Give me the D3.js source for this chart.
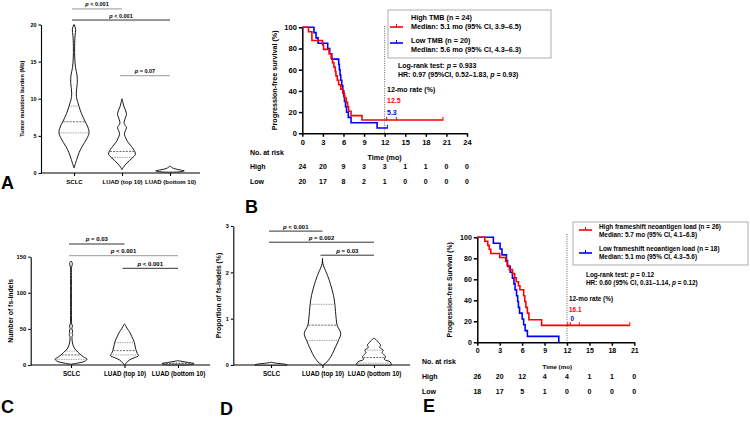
<!DOCTYPE html>
<html>
<head>
<meta charset="utf-8">
<script src="https://cdn.jsdelivr.net/npm/d3@7"></script>
<style>
	body { margin: 0; background: #fff; }
	svg { display: block; font-family: "Liberation Sans", Arial, sans-serif; }
	text { font-weight: bold; white-space: pre; }
</style>
</head>
<body>
<script>
"use strict";

// ---------- data ----------
const categories = ["SCLC", "LUAD (top 10)", "LUAD (bottom 10)"];

// violin outlines: [value, relative width]
const tmbSclc = [[0.7, 0], [1.8, 0.18], [2.8, 0.35], [3.6, 0.55], [4.6, 0.85], [5.4, 1.0], [6.2, 0.92], [6.9, 0.75], [8.0, 0.5], [9.0, 0.33], [10.3, 0.16], [11.2, 0.17], [12.2, 0.22], [13.2, 0.2], [14.2, 0.1], [15.5, 0.05], [17, 0.04], [18.5, 0.07], [19.3, 0.11], [19.8, 0.05], [20, 0]];
const tmbLuadTop = [[0.45, 0], [0.8, 0.1], [1.35, 0.33], [2.0, 0.67], [2.5, 0.89], [2.9, 0.85], [3.6, 0.62], [4.2, 0.38], [4.6, 0.28], [5.2, 0.16], [5.7, 0.22], [6.1, 0.3], [6.7, 0.14], [7.3, 0.2], [7.9, 0.3], [8.5, 0.22], [9.0, 0.12], [9.6, 0.05], [10.0, 0]];
const tmbLuadBottom = [[0.1, 0], [0.15, 0.6], [0.28, 0.95], [0.4, 0.7], [0.55, 0.35], [0.7, 0.15], [0.85, 0.06], [0.95, 0]];
const tmbQuartiles = [[5.4, 6.9, 9.0], [2.1, 2.9, null], [null, null, null]];
const tmbTicks = [0, 5, 10, 15, 20];
const tmbComparisons = [[0, 1, " < 0.001"], [0, 2, " < 0.001"], [1, 2, " = 0.07"]];

const fsSclc = [[1, 0], [3, 0.5], [5, 0.85], [8, 1.0], [11, 0.8], [14, 0.62], [17, 0.47], [19.4, 0.37], [22, 0.25], [25, 0.17], [28, 0.12], [32, 0.08], [36, 0.06], [40, 0.07], [42, 0.11], [44, 0.07], [47, 0.1], [50, 0.05], [54, 0.09], [57, 0.04], [65, 0.03], [80, 0.025], [100, 0.025], [120, 0.025], [135, 0.03], [139, 0.08], [142, 0.07], [144, 0]];
const fsLuadTop = [[0, 0], [3, 0.12], [7, 0.31], [10, 0.6], [13, 0.88], [16, 0.8], [20, 0.73], [25, 0.67], [31, 0.62], [35, 0.55], [39, 0.46], [43, 0.38], [46, 0.31], [50, 0.18], [54, 0.08], [57, 0]];
const fsLuadBottom = [[0.3, 0], [0.8, 0.9], [2, 1.0], [3, 0.8], [4, 0.5], [5, 0.25], [6, 0]];
const fsQuartiles = [[7.8, 13.9, 19.4], [13.9, 19.9, 30.9], [1, 2, 3]];
const fsTicks = [0, 50, 100, 150];
const fsComparisons = [[0, 1, " = 0.03"], [0, 2, " < 0.001"], [1, 2, " < 0.001"]];

const propSclc = [[0, 0.85], [0.02, 0.7], [0.04, 0.25], [0.06, 0]];
const propLuadTop = [[0, 0], [0.04, 0.17], [0.18, 0.44], [0.32, 0.61], [0.53, 0.84], [0.68, 0.96], [0.86, 0.77], [1.0, 0.72], [1.31, 0.65], [1.5, 0.58], [1.76, 0.41], [1.98, 0.22], [2.09, 0.1], [2.19, 0.02], [2.3, 0]];
const propLuadBottom = [[0, 0.9], [0.02, 0.91], [0.07, 0.84], [0.12, 0.55], [0.18, 0.61], [0.23, 0.5], [0.27, 0.42], [0.32, 0.49], [0.38, 0.3], [0.43, 0.35], [0.5, 0.21], [0.55, 0.1], [0.58, 0]];
const propQuartiles = [[null, null, null], [0.53, 0.86, 1.31], [0.04, 0.16, 0.32]];
const propTicks = [0, 1, 2, 3];
const propComparisons = [[0, 1, " < 0.001"], [0, 2, " = 0.002"], [1, 2, " = 0.03"]];

// Kaplan-Meier steps: [month, survival %]
const tmbHighSteps = [[0, 100], [0.9, 95.8], [1.4, 87.5], [2.95, 83.3], [3.1, 79.2], [3.9, 75], [4.2, 70.8], [4.4, 66.7], [4.6, 62.5], [4.8, 58.3], [4.9, 54.2], [5.1, 50], [5.3, 45.8], [5.6, 41.7], [5.9, 37.5], [6.15, 33.3], [6.4, 29.2], [6.6, 25], [6.75, 20.8], [7.1, 16.7], [8.7, 12.5], [20.5, 12.5]];
const tmbHighCensor = [12.3, 13.7, 20.5];
const tmbLowSteps = [[0, 100], [1.7, 95], [2.0, 90], [2.3, 85], [3.7, 80], [4.0, 75], [4.3, 70], [5.3, 65], [5.4, 60], [5.5, 55], [5.6, 50], [5.75, 45], [5.9, 40], [6.05, 35], [6.15, 30], [6.3, 25], [6.45, 20], [6.7, 15], [7.1, 10], [10.9, 5], [12.4, 5]];
const tmbLowCensor = [12.4];
const monthTicksB = [0, 3, 6, 9, 12, 15, 18, 21, 24];
const riskHighB = [24, 20, 9, 3, 3, 1, 1, 0, 0];
const riskLowB = [20, 17, 8, 2, 1, 0, 0, 0, 0];
const legendB = ["High TMB (n = 24)", "Median: 5.1 mo (95% CI, 3.9\u20136.5)", "Low TMB (n = 20)", "Median: 5.6 mo (95% CI, 4.3\u20136.3)"];

const fnlHighSteps = [[0, 100], [1.0, 96.2], [1.4, 92.3], [1.6, 88.5], [1.8, 84.6], [3.0, 80.8], [3.8, 76.9], [4.0, 73.1], [4.3, 69.2], [4.7, 65.4], [5.0, 61.5], [5.2, 57.7], [5.5, 53.8], [5.7, 50], [6.2, 44.4], [6.35, 38.9], [6.5, 33.3], [6.7, 27.8], [6.9, 21.5], [8.6, 16.1], [20.4, 16.1]];
const fnlHighCensor = [12.1, 12.45, 13.65, 20.4];
const fnlLowSteps = [[0, 100], [2.15, 94.4], [3.05, 88.9], [3.3, 83.3], [3.9, 77.8], [4.05, 72.2], [4.4, 66.7], [4.7, 61.1], [4.9, 55.6], [5.05, 50], [5.25, 44.4], [5.4, 38.9], [5.5, 33.3], [5.65, 27.8], [6.0, 22.2], [6.2, 16.7], [6.4, 11.1], [6.7, 5.6], [10.9, 0]];
const fnlLowCensor = [];
const monthTicksE = [0, 3, 6, 9, 12, 15, 18, 21];
const riskHighE = [26, 20, 12, 4, 4, 1, 1, 0];
const riskLowE = [18, 17, 5, 1, 0, 0, 0, 0];
const legendE = ["High frameshift neoantigen load (n = 26)", "Median: 5.7 mo (95% CI, 4.1\u20136.8)", "Low frameshift neoantigen load (n = 18)", "Median: 5.1 mo (95% CI, 4.3\u20135.6)"];

const RED = "#ff0000";
const BLUE = "#0000ff";

const svg = d3.select("body")
	.append("svg")
	.attr("width", 750)
	.attr("height", 424);

// text with italic parts: strings are upright, {i: "p"} italic
function rich(sel, x, y, parts, size, anchor = "start", color = "#000") {
	const t = sel.append("text")
		.attr("x", x)
		.attr("y", y)
		.attr("font-size", size)
		.attr("text-anchor", anchor)
		.attr("fill", color);
	parts.forEach(p => {
		if (typeof p === "string") t.append("tspan").text(p);
		else t.append("tspan").attr("font-style", "italic").text(p.i);
	});
	return t;
}

function densityAt(profile, v) {
	for (let i = 1; i < profile.length; i++) {
		const [a, da] = profile[i - 1];
		const [b, db] = profile[i];
		if (v >= a && v <= b) return da + (db - da) * (v - a) / (b - a);
	}
	return 0;
}

function styleAxis(a, size, width) {
	a.attr("font-family", null).attr("font-size", size).attr("font-weight", "bold");
	a.selectAll("line, path").attr("stroke", "#000").attr("stroke-width", width);
	a.selectAll("text").attr("fill", "#000");
}

function drawViolins(cfg) {
	const g = svg.append("g");
	const y = d3.scaleLinear().domain([0, cfg.yMax]).range([cfg.y0, cfg.yTop]);
	const x = d3.scalePoint().domain(categories).range(cfg.catRange);
	const w = d3.scaleLinear().domain([0, 1]).range([0, cfg.halfWidth]);

	// axes
	g.append("g")
		.attr("transform", `translate(${cfg.x0},0)`)
		.call(d3.axisLeft(y).tickValues(cfg.ticks).tickFormat(d3.format("d")).tickSize(2.5).tickSizeOuter(0).tickPadding(2))
		.call(a => styleAxis(a, cfg.tickFont, 1.1));
	g.append("g")
		.attr("transform", `translate(0,${cfg.y0})`)
		.call(d3.axisBottom(x).tickSize(3).tickSizeOuter(0).tickPadding(3.5))
		.call(a => styleAxis(a, cfg.catFont, 1.1))
		.call(a => a.select(".domain").remove());
	g.append("line")
		.attr("x1", cfg.x0).attr("x2", cfg.x1)
		.attr("y1", cfg.y0).attr("y2", cfg.y0)
		.attr("stroke", "#000").attr("stroke-width", 1.1);
	g.append("text")
		.attr("transform", `translate(${cfg.titleX},${(cfg.y0 + cfg.yTop) / 2}) rotate(-90)`)
		.attr("text-anchor", "middle")
		.attr("font-size", cfg.titleFont)
		.text(cfg.title);

	// violins
	cfg.violins.forEach((profile, i) => {
		const cx = x(categories[i]);
		const area = d3.area()
			.curve(d3.curveCatmullRom.alpha(0.5))
			.y(d => y(d[0]))
			.x0(d => cx - w(d[1]))
			.x1(d => cx + w(d[1]));
		g.append("path")
			.datum(profile)
			.attr("d", area)
			.attr("fill", "#fff")
			.attr("stroke", "#000")
			.attr("stroke-width", 0.9);
		cfg.quartiles[i].forEach((q, k) => {
			if (q == null) return;
			const hw = Math.max(0, w(densityAt(profile, q)) - 0.6);
			g.append("line")
				.attr("x1", cx - hw).attr("x2", cx + hw)
				.attr("y1", y(q)).attr("y2", y(q))
				.attr("stroke", k === 1 ? "#222" : "#555")
				.attr("stroke-width", 0.7)
				.attr("stroke-dasharray", k === 1 ? "2,1.2" : "0.8,0.9");
		});
	});

	// significance bars
	cfg.comparisons.forEach(([a, b, label], k) => {
		const yy = y(cfg.barLevels[k]);
		const xa = x(categories[a]) - 2;
		const xb = x(categories[b]);
		g.append("line")
			.attr("x1", xa).attr("x2", xb)
			.attr("y1", yy).attr("y2", yy)
			.attr("stroke", cfg.barColors[k])
			.attr("stroke-width", 1);
		rich(g, (xa + xb) / 2, yy - 2.5, [{ i: "p" }, label], cfg.sigFont, "middle");
	});
}

function survivalAt(steps, t) {
	let s = steps[0][1];
	steps.forEach(d => { if (d[0] <= t) s = d[1]; });
	return s;
}

function drawKm(cfg) {
	const g = svg.append("g");
	const x = d3.scaleLinear().domain([0, cfg.tMax]).range([cfg.x0, cfg.x1]);
	const y = d3.scaleLinear().domain([0, 100]).range([cfg.y0, cfg.yTop]);

	g.append("line")
		.attr("x1", x(12)).attr("x2", x(12))
		.attr("y1", cfg.dotTop).attr("y2", cfg.y0)
		.attr("stroke", "#555")
		.attr("stroke-width", 0.9)
		.attr("stroke-dasharray", "1,1.3");

	g.append("g")
		.attr("transform", `translate(${cfg.x0},0)`)
		.call(d3.axisLeft(y).tickValues([0, 20, 40, 60, 80, 100]).tickSize(3.5).tickSizeOuter(0).tickPadding(2))
		.call(a => styleAxis(a, cfg.tickFont, 1.5));
	g.append("g")
		.attr("transform", `translate(0,${cfg.y0})`)
		.call(d3.axisBottom(x).tickValues(cfg.ticks).tickSize(3.5).tickSizeOuter(0).tickPadding(2.5))
		.call(a => styleAxis(a, cfg.tickFont, 1.5));

	g.append("text")
		.attr("transform", `translate(${cfg.titleX},${(cfg.y0 + cfg.yTop) / 2}) rotate(-90)`)
		.attr("text-anchor", "middle")
		.attr("font-size", cfg.titleFont)
		.text(cfg.title);

	const line = d3.line()
		.curve(d3.curveStepAfter)
		.x(d => x(d[0]))
		.y(d => y(d[1]));
	cfg.series.slice().reverse().forEach(s => {
		g.append("path")
			.datum(s.steps)
			.attr("d", line)
			.attr("fill", "none")
			.attr("stroke", s.color)
			.attr("stroke-width", 1.6);
		s.censor.forEach(t => {
			const yy = y(survivalAt(s.steps, t));
			g.append("line")
				.attr("x1", x(t)).attr("x2", x(t))
				.attr("y1", yy - 3.2).attr("y2", yy + 0.6)
				.attr("stroke", s.color)
				.attr("stroke-width", 1);
		});
	});

	// legend
	const lg = cfg.legend;
	g.append("rect")
		.attr("x", lg.x).attr("y", lg.y)
		.attr("width", lg.w).attr("height", lg.h)
		.attr("fill", "#fff")
		.attr("stroke", "#999")
		.attr("stroke-width", 0.8);
	cfg.series.forEach((s, i) => {
		const sy = lg.symbolY[i];
		g.append("line")
			.attr("x1", lg.symbolX[0]).attr("x2", lg.symbolX[1])
			.attr("y1", sy).attr("y2", sy)
			.attr("stroke", s.color).attr("stroke-width", 1.6);
		const mx = (lg.symbolX[0] + lg.symbolX[1]) / 2;
		g.append("line")
			.attr("x1", mx).attr("x2", mx)
			.attr("y1", sy - 3).attr("y2", sy)
			.attr("stroke", s.color).attr("stroke-width", 1);
		g.append("text").attr("x", lg.textX).attr("y", lg.textY[i][0])
			.attr("font-size", lg.font).text(cfg.legendText[i * 2]);
		g.append("text").attr("x", lg.textX).attr("y", lg.textY[i][1])
			.attr("font-size", lg.font).text(cfg.legendText[i * 2 + 1]);
	});

	// stats
	const st = cfg.stats;
	rich(g, st.x, st.y[0], ["Log-rank test: ", { i: "p" }, cfg.logRank], st.font);
	rich(g, st.x, st.y[1], [cfg.hr, { i: "p" }, cfg.hrP], st.font);
	rich(g, st.rateX, st.y[2], ["12-mo rate (%)"], st.font);
	rich(g, st.rateX, st.y[3], [cfg.rates[0]], st.font, "start", RED);
	rich(g, st.rateX + st.blueShift, st.y[4], [cfg.rates[1]], st.font, "start", BLUE);

	// numbers at risk
	const rk = cfg.risk;
	g.append("text").attr("x", rk.labelX).attr("y", rk.headY).attr("font-size", rk.font).text("No. at risk");
	g.append("text").attr("x", (cfg.x0 + cfg.x1) / 2 + rk.timeShift).attr("y", rk.timeY)
		.attr("text-anchor", "middle").attr("font-size", rk.timeFont).text("Time (mo)");
	["High", "Low"].forEach((name, r) => {
		g.append("text").attr("x", rk.labelX).attr("y", rk.rowY[r]).attr("font-size", rk.font).text(name);
		g.selectAll(null)
			.data(cfg.ticks)
			.enter()
			.append("text")
			.attr("x", d => x(d))
			.attr("y", rk.rowY[r])
			.attr("text-anchor", "middle")
			.attr("font-size", rk.font)
			.text((d, i) => rk.values[r][i]);
	});
}

// ---------- panel A ----------
drawViolins({
	x0: 41, x1: 200, y0: 173, yTop: 24.5, yMax: 20,
	catRange: [74, 170], halfWidth: 15,
	ticks: tmbTicks, tickFont: 5.5, catFont: 6, sigFont: 5.5,
	title: "Tumor mutation burden (Mb)", titleX: 24, titleFont: 5.6,
	violins: [tmbSclc, tmbLuadTop, tmbLuadBottom],
	quartiles: tmbQuartiles,
	comparisons: tmbComparisons,
	barLevels: [22.1, 20.6, 13.1],
	barColors: ["#999", "#333", "#999"]
});

// ---------- panel C ----------
drawViolins({
	x0: 30.7, x1: 210, y0: 365, yTop: 256.7, yMax: 150,
	catRange: [71, 178], halfWidth: 16,
	ticks: fsTicks, tickFont: 5.8, catFont: 6.3, sigFont: 6,
	title: "Number of fs-indels", titleX: 13, titleFont: 6.8,
	violins: [fsSclc, fsLuadTop, fsLuadBottom],
	quartiles: fsQuartiles,
	comparisons: fsComparisons,
	barLevels: [167.6, 151.4, 133.9],
	barColors: ["#333", "#999", "#333"]
});

// ---------- panel D ----------
drawViolins({
	x0: 233.3, x1: 410, y0: 365, yTop: 226, yMax: 3,
	catRange: [271, 374], halfWidth: 19,
	ticks: propTicks, tickFont: 5.5, catFont: 6.3, sigFont: 6,
	title: "Proportion of fs-indels (%)", titleX: 221, titleFont: 6.8,
	violins: [propSclc, propLuadTop, propLuadBottom],
	quartiles: propQuartiles,
	comparisons: propComparisons,
	barLevels: [2.89, 2.65, 2.37],
	barColors: ["#333", "#333", "#333"]
});

// ---------- panel B ----------
drawKm({
	x0: 302.3, x1: 467, y0: 133.3, yTop: 27.3, tMax: 24, dotTop: 26,
	ticks: monthTicksB, tickFont: 7.5,
	title: "Progression-free survival (%)", titleX: 277, titleFont: 7.2,
	series: [
		{ steps: tmbHighSteps, censor: tmbHighCensor, color: RED },
		{ steps: tmbLowSteps, censor: tmbLowCensor, color: BLUE }
	],
	legendText: legendB,
	legend: { x: 388, y: 10, w: 163, h: 48, symbolX: [390, 403], symbolY: [27, 43], textX: 411, textY: [[19.5, 28.5], [42.5, 51.5]], font: 7.2 },
	logRank: " = 0.933", hr: "HR: 0.97 (95%CI, 0.52\u20131.83, ", hrP: " = 0.93)",
	rates: ["12.5", "5.3"],
	stats: { x: 398, rateX: 387, blueShift: 0, y: [67.5, 76.5, 91.5, 102.5, 114.5], font: 7 },
	risk: { labelX: 250, headY: 154.5, timeY: 159.5, timeShift: 0, timeFont: 7.2, rowY: [168.5, 183.5], font: 7, values: [riskHighB, riskLowB] }
});

// ---------- panel E ----------
drawKm({
	x0: 477.3, x1: 634.3, y0: 342.3, yTop: 237.3, tMax: 21, dotTop: 234,
	ticks: monthTicksE, tickFont: 7,
	title: "Progression-free Survival (%)", titleX: 452, titleFont: 6.8,
	series: [
		{ steps: fnlHighSteps, censor: fnlHighCensor, color: RED },
		{ steps: fnlLowSteps, censor: fnlLowCensor, color: BLUE }
	],
	legendText: legendE,
	legend: { x: 573, y: 222, w: 175, h: 43, symbolX: [579, 592], symbolY: [230, 253], textX: 599, textY: [[229.3, 236.8], [251.3, 258.8]], font: 6.4 },
	logRank: " = 0.12", hr: "HR: 0.60 (95% CI, 0.31\u20131.14, ", hrP: " = 0.12)",
	rates: ["16.1", "0"],
	stats: { x: 586, rateX: 569, blueShift: 1.5, y: [276.5, 284.5, 300.5, 311.5, 320.5], font: 6.4 },
	risk: { labelX: 422, headY: 364, timeY: 368.5, timeShift: 1.5, timeFont: 6.2, rowY: [378.5, 393.5], font: 7, values: [riskHighE, riskLowE] }
});

// panel letters
[["A", 1, 188.5], ["B", 245, 213], ["C", 1, 413], ["D", 220, 415], ["E", 423, 412]].forEach(([l, px, py]) => {
	svg.append("text").attr("x", px).attr("y", py).attr("font-size", 18).text(l);
});
</script>
</body>
</html>
